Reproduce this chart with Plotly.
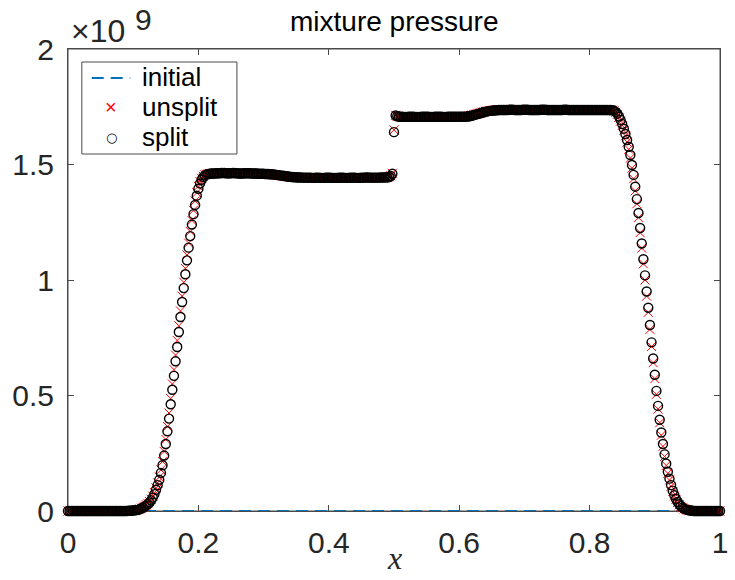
import plotly.graph_objects as go

# ---------------- data (pressure in MPa; shown in units of 1e9 Pa) ----------------
N_CELLS = 400
x_grid = [i / N_CELLS for i in range(N_CELLS + 1)]

initial_x = [0.0, 1.0]
initial_p = [0.1, 0.1]

split_p = [
    0, 0, 0, 0, 0, 0, 0, 0, 0, 0,
    0, 0, 0, 0, 0, 0, 0, 0, 0, 0,
    0, 0, 0, 0, 0, 0, 0, 0, 0, 0,
    0, 0, 0, 0, 0, 0, 0, 1, 1, 2,
    2, 3, 4, 5, 8, 11, 15, 19, 24, 30,
    37, 46, 58, 73, 92, 112, 135, 165, 198, 240,
    290, 345, 400, 462, 525, 585, 648, 710, 775, 840,
    905, 965, 1025, 1085, 1140, 1190, 1240, 1285, 1325, 1365,
    1395, 1418, 1434, 1446, 1453, 1457, 1459, 1460, 1461, 1461,
    1461, 1462, 1462, 1462, 1463, 1463, 1463, 1462, 1462, 1462,
    1462, 1463, 1463, 1462, 1462, 1461, 1461, 1461, 1462, 1462,
    1462, 1462, 1462, 1461, 1461, 1461, 1461, 1460, 1460, 1460,
    1460, 1459, 1459, 1459, 1458, 1458, 1457, 1456, 1455, 1454,
    1453, 1452, 1451, 1450, 1449, 1448, 1447, 1446, 1446, 1445,
    1445, 1444, 1444, 1444, 1443, 1443, 1443, 1443, 1443, 1443,
    1442, 1442, 1443, 1443, 1443, 1442, 1442, 1442, 1443, 1443,
    1443, 1443, 1442, 1442, 1442, 1442, 1443, 1443, 1443, 1443,
    1442, 1442, 1442, 1443, 1443, 1443, 1443, 1442, 1442, 1442,
    1443, 1443, 1443, 1444, 1444, 1443, 1443, 1443, 1443, 1443,
    1443, 1443, 1444, 1444, 1444, 1445, 1444, 1446, 1450, 1460,
    1640, 1712, 1709, 1707, 1707, 1707, 1706, 1706, 1706, 1707,
    1707, 1707, 1707, 1706, 1706, 1706, 1706, 1707, 1707, 1707,
    1707, 1707, 1706, 1706, 1706, 1707, 1707, 1707, 1707, 1707,
    1706, 1706, 1706, 1707, 1707, 1707, 1707, 1707, 1707, 1707,
    1707, 1707, 1707, 1707, 1707, 1708, 1709, 1710, 1712, 1714,
    1716, 1718, 1720, 1722, 1724, 1726, 1728, 1730, 1731, 1732,
    1733, 1734, 1735, 1735, 1736, 1736, 1736, 1736, 1736, 1736,
    1736, 1737, 1737, 1737, 1736, 1736, 1736, 1736, 1736, 1737,
    1737, 1737, 1737, 1736, 1736, 1736, 1736, 1736, 1736, 1736,
    1737, 1737, 1737, 1737, 1736, 1736, 1736, 1736, 1736, 1736,
    1736, 1736, 1736, 1736, 1737, 1737, 1737, 1736, 1736, 1736,
    1736, 1736, 1736, 1736, 1736, 1736, 1736, 1736, 1736, 1736,
    1736, 1736, 1736, 1736, 1736, 1736, 1736, 1736, 1736, 1736,
    1736, 1736, 1736, 1736, 1735, 1733, 1728, 1720, 1708, 1693,
    1675, 1655, 1632, 1606, 1577, 1541, 1498, 1455, 1404, 1350,
    1290, 1225, 1158, 1090, 1020, 950, 880, 805, 730, 660,
    590, 520, 455, 395, 340, 290, 245, 205, 170, 140,
    112, 88, 68, 52, 39, 29, 21, 15, 10, 7,
    5, 3, 2, 1, 0, 0, 0, 0, 0, 0,
    0, 0, 0, 0, 0, 0, 0, 0, 0, 0,
    0,
]

unsplit_p = [
    0, 0, 0, 0, 0, 0, 0, 0, 0, 0,
    0, 0, 0, 0, 0, 0, 0, 0, 0, 0,
    0, 0, 0, 0, 0, 0, 0, 0, 0, 0,
    0, 0, 0, 0, 0, 0, 0, 1, 1, 2,
    2, 3, 4, 6, 9, 12, 16, 21, 27, 33,
    41, 51, 64, 80, 100, 122, 147, 178, 214, 258,
    310, 366, 424, 487, 550, 612, 675, 738, 802, 866,
    930, 990, 1050, 1108, 1160, 1210, 1258, 1302, 1342, 1378,
    1406, 1426, 1440, 1449, 1455, 1458, 1460, 1461, 1461, 1461,
    1462, 1462, 1463, 1463, 1463, 1463, 1462, 1462, 1462, 1462,
    1463, 1463, 1462, 1462, 1462, 1461, 1461, 1462, 1462, 1462,
    1462, 1462, 1461, 1461, 1461, 1461, 1460, 1460, 1460, 1460,
    1459, 1459, 1459, 1458, 1458, 1457, 1456, 1455, 1454, 1453,
    1452, 1451, 1450, 1449, 1448, 1447, 1446, 1446, 1445, 1445,
    1444, 1444, 1444, 1443, 1443, 1443, 1443, 1443, 1443, 1442,
    1442, 1443, 1443, 1443, 1442, 1442, 1442, 1443, 1443, 1443,
    1443, 1442, 1442, 1442, 1442, 1443, 1443, 1443, 1443, 1442,
    1442, 1442, 1443, 1443, 1443, 1443, 1442, 1442, 1442, 1443,
    1443, 1443, 1444, 1444, 1443, 1443, 1443, 1443, 1443, 1443,
    1443, 1444, 1444, 1444, 1445, 1444, 1445, 1447, 1451, 1462,
    1650, 1713, 1709, 1707, 1707, 1706, 1706, 1706, 1707, 1707,
    1707, 1707, 1706, 1706, 1706, 1706, 1707, 1707, 1707, 1707,
    1707, 1706, 1706, 1706, 1707, 1707, 1707, 1707, 1707, 1706,
    1706, 1706, 1707, 1707, 1707, 1707, 1707, 1707, 1707, 1707,
    1707, 1707, 1707, 1707, 1708, 1709, 1710, 1712, 1714, 1716,
    1718, 1720, 1722, 1724, 1726, 1728, 1730, 1731, 1732, 1733,
    1734, 1735, 1735, 1736, 1736, 1736, 1736, 1736, 1736, 1736,
    1737, 1737, 1737, 1736, 1736, 1736, 1736, 1736, 1737, 1737,
    1737, 1737, 1736, 1736, 1736, 1736, 1736, 1736, 1736, 1737,
    1737, 1737, 1737, 1736, 1736, 1736, 1736, 1736, 1736, 1736,
    1736, 1736, 1736, 1737, 1737, 1737, 1736, 1736, 1736, 1736,
    1736, 1736, 1736, 1736, 1736, 1736, 1736, 1736, 1736, 1736,
    1736, 1736, 1736, 1736, 1736, 1736, 1736, 1736, 1736, 1736,
    1736, 1736, 1736, 1736, 1735, 1732, 1726, 1717, 1704, 1688,
    1669, 1648, 1624, 1597, 1566, 1528, 1484, 1438, 1386, 1330,
    1270, 1205, 1138, 1070, 1000, 930, 860, 786, 712, 642,
    573, 505, 441, 382, 328, 280, 236, 197, 163, 134,
    107, 84, 65, 50, 37, 27, 20, 14, 9, 6,
    4, 3, 2, 1, 0, 0, 0, 0, 0, 0,
    0, 0, 0, 0, 0, 0, 0, 0, 0, 0,
    0,
]

x_ticks = [0, 0.2, 0.4, 0.6, 0.8, 1]
x_tick_labels = ["0", "0.2", "0.4", "0.6", "0.8", "1"]
y_ticks = [0, 0.5, 1, 1.5, 2]
y_tick_labels = ["0", "0.5", "1", "1.5", "2"]

legend_names = ["initial", "unsplit", "split"]

SCALE = 1000.0  # MPa -> 1e9 Pa

# ---------------- layout helpers ----------------
W, H = 735, 580
L, R, T, B = 68, 7, 49, 69
PW, PH = W - L - R, H - T - B


def px(xp):
    return (xp - L) / PW


def py(yp):
    return (H - B - yp) / PH


SANS = "Liberation Sans, Arial, Helvetica, sans-serif"
TXT = "#262626"
AX = "#4a4a4a"
BLUE = "#0072BD"

fig = go.Figure()

fig.add_trace(go.Scatter(
    x=initial_x, y=[v / SCALE for v in initial_p], mode="lines", name=legend_names[0],
    line=dict(color=BLUE, width=2, dash="12px,7px"), cliponaxis=False,
))
fig.add_trace(go.Scatter(
    x=x_grid, y=[v / SCALE for v in unsplit_p], mode="markers", name=legend_names[1],
    marker=dict(symbol="x-thin", size=9, color="#FF0000",
                line=dict(color="#FF0000", width=1)),
    cliponaxis=False,
))
fig.add_trace(go.Scatter(
    x=x_grid, y=[v / SCALE for v in split_p], mode="markers", name=legend_names[2],
    marker=dict(symbol="circle-open", size=9, color="#000000",
                line=dict(color="#000000", width=1.4)),
    cliponaxis=False,
))

axis_common = dict(
    showline=True, linecolor=AX, linewidth=1, mirror="ticks",
    ticks="inside", ticklen=6, tickcolor=AX, tickwidth=1,
    showgrid=False, zeroline=False, layer="below traces",
    tickfont=dict(family=SANS, size=30, color=TXT),
    ticklabeloverflow="allow",
)

# legend (compact, MATLAB-like) built from shapes + text
leg_x0, leg_x1, leg_y0, leg_y1 = 82, 239, 62, 154
row_y = [77, 107, 137]
sym_x = 112
text_x = 141

shapes = [
    dict(type="rect", xref="paper", yref="paper", x0=0, x1=1, y0=0, y1=1,
         line=dict(color=AX, width=1), fillcolor="rgba(0,0,0,0)", layer="below"),
    dict(type="rect", xref="paper", yref="paper",
         x0=px(leg_x0), x1=px(leg_x1), y0=py(leg_y1), y1=py(leg_y0),
         line=dict(color=AX, width=1), fillcolor="white", layer="above"),
    dict(type="line", xref="paper", yref="paper",
         x0=px(92), x1=px(131), y0=py(row_y[0] + 1), y1=py(row_y[0] + 1),
         line=dict(color=BLUE, width=2, dash="12px,7px"), layer="above"),
]

annotations = [
    dict(text="mixture pressure", x=0.5, y=py(22),
         xref="paper", yref="paper", showarrow=False,
         xanchor="center", yanchor="middle",
         font=dict(family=SANS, size=28, color="#000000")),
    dict(text="×10", x=px(69), y=py(31),
         xref="paper", yref="paper", showarrow=False,
         xanchor="left", yanchor="middle",
         font=dict(family=SANS, size=32, color=TXT)),
    dict(text="9", x=px(134), y=py(20),
         xref="paper", yref="paper", showarrow=False,
         xanchor="left", yanchor="middle",
         font=dict(family=SANS, size=30, color=TXT)),
    dict(text="<i>x</i>", x=0.5, y=py(578),
         xref="paper", yref="paper", showarrow=False,
         xanchor="center", yanchor="bottom",
         font=dict(family="Liberation Serif, Times New Roman, serif",
                   size=32, color=TXT)),
    dict(text="×", x=px(sym_x), y=py(row_y[1]),
         xref="paper", yref="paper", showarrow=False,
         xanchor="center", yanchor="middle",
         font=dict(family=SANS, size=20, color="#FF0000")),
    dict(text="○", x=px(sym_x), y=py(row_y[2]),
         xref="paper", yref="paper", showarrow=False,
         xanchor="center", yanchor="middle",
         font=dict(family="DejaVu Sans, sans-serif", size=13, color="#000000")),
]
for name, ry in zip(legend_names, row_y):
    annotations.append(dict(
        text=name, x=px(text_x), y=py(ry), xref="paper", yref="paper",
        showarrow=False, xanchor="left", yanchor="middle",
        font=dict(family=SANS, size=26, color="#000000")))

fig.update_layout(
    width=W, height=H,
    margin=dict(l=L, r=R, t=T, b=B),
    paper_bgcolor="white", plot_bgcolor="white",
    xaxis=dict(range=[0, 1], tickmode="array", tickvals=x_ticks,
               ticktext=x_tick_labels, ticklabelstandoff=5, **axis_common),
    yaxis=dict(range=[0, 2], tickmode="array", tickvals=y_ticks,
               ticktext=y_tick_labels, ticklabelstandoff=7, **axis_common),
    showlegend=False,
    shapes=shapes,
    annotations=annotations,
)

fig.write_html("out.html")
